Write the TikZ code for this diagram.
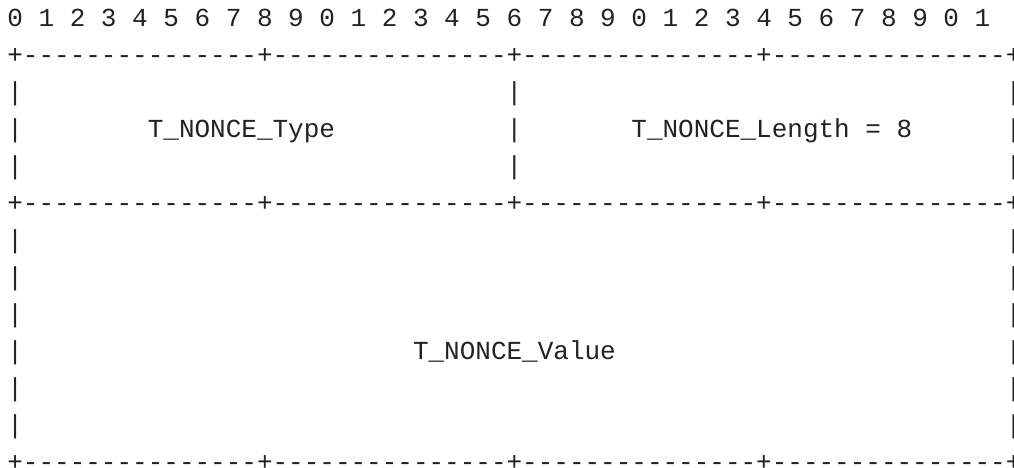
\documentclass[tikz,border=0pt]{standalone}
\usepackage{xcolor}
\usepackage{fontspec}
\setmonofont{Liberation Mono}[WordSpace={1,0,0}]
\usepackage{tikz}
\usetikzlibrary{positioning}

\definecolor{ink}{HTML}{222222}
\newcommand{\pktrule}{+---------------+---------------+---------------+---------------+}

\begin{document}
\begin{tikzpicture}[x=15.6pt,y=-37pt,
                    ascii node/.style={anchor=base west,inner sep=0pt,text=ink,
                                       font=\ttfamily\fontsize{26}{37}\selectfont}]

  \useasboundingbox (-7.2pt,26.5pt) rectangle ++(1014pt,-468pt);

  \node[ascii node] (hdr) at (0,0) {0 1 2 3 4 5 6 7 8 9 0 1 2 3 4 5 6 7 8 9 0 1 2 3 4 5 6 7 8 9 0 1};
  \node[ascii node] (top) at (0,1) {\pktrule};
  \node[ascii node] (mid) at (0,5) {\pktrule};
  \node[ascii node] (bot) at (0,12) {\pktrule};

  \node[ascii node] (type) at (9,3) {T\_NONCE\_Type};
  \node[ascii node] (len) at (40,3) {T\_NONCE\_Length = 8};
  \node[ascii node] (val) at (26,9) {T\_NONCE\_Value};

  % side bars
  \foreach \r in {2,3,4}
    \foreach \c in {0,32,64}
      \node[ascii node] (bar-\c-\r) at (\c,\r) {|};
  \foreach \r in {6,...,11}
    \foreach \c in {0,64}
      \node[ascii node] (bar-\c-\r) at (\c,\r) {|};

\end{tikzpicture}
\end{document}
